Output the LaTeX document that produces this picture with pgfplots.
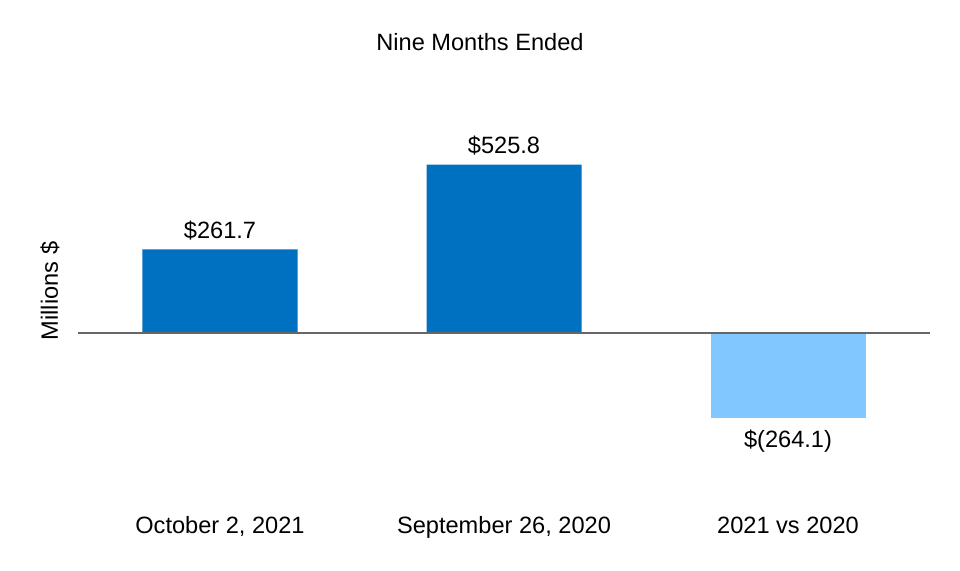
\documentclass[border=0pt]{standalone}
\usepackage{fontspec}
\setmainfont{Liberation Sans}
\usepackage{pgfplots}
\pgfplotsset{compat=1.18}

\definecolor{darkbar}{RGB}{0,112,192}
\definecolor{lightbar}{RGB}{128,200,255}
\definecolor{zeroline}{RGB}{102,102,102}

\begin{document}
\begin{tikzpicture}
\begin{axis}[
  name=ax,
  scale only axis,
  width=426pt, height=214pt,
  xmin=-0.5, xmax=2.5,
  ymin=-537.5, ymax=800,
  axis line style={draw=none},
  major tick length=0pt,
  ytick=\empty,
  xtick={0,1,2},
  xticklabels={{October 2, 2021}, {September 26, 2020}, {2021 vs 2020}},
  xticklabel style={anchor=base, yshift=-14pt},
  font=\fontsize{11.8}{14}\selectfont,
  title={Nine Months Ended},
  title style={at={(rel axis cs:0.5,1)}, anchor=center, xshift=-12pt, yshift=11.5pt},
  ylabel={Millions \$},
  ylabel style={at={(rel axis cs:-0.033,0.5)}, anchor=center},
  ybar, bar width=77.5pt, bar shift=0pt,
  nodes near coords,
  point meta=explicit symbolic,
  every node near coord/.append style={font=\fontsize{11.8}{14}\selectfont, inner sep=4.5pt},
  clip=false,
]
\addplot[fill=darkbar, draw=none] coordinates {
  (0,261.7) [\$261.7]
  (1,525.8) [\$525.8]
};
\addplot[fill=lightbar, draw=none,
  nodes near coords style={anchor=north, inner sep=6pt}] coordinates {
  (2,-264.1) [\$(264.1)]
};
\draw[zeroline, line width=1pt] (axis cs:-0.5,0) -- (axis cs:2.5,0);
\end{axis}
\path[use as bounding box] ([xshift=-39pt,yshift=-32.5pt]ax.south west) rectangle ([xshift=15pt,yshift=38.5pt]ax.north east);
\end{tikzpicture}
\end{document}
